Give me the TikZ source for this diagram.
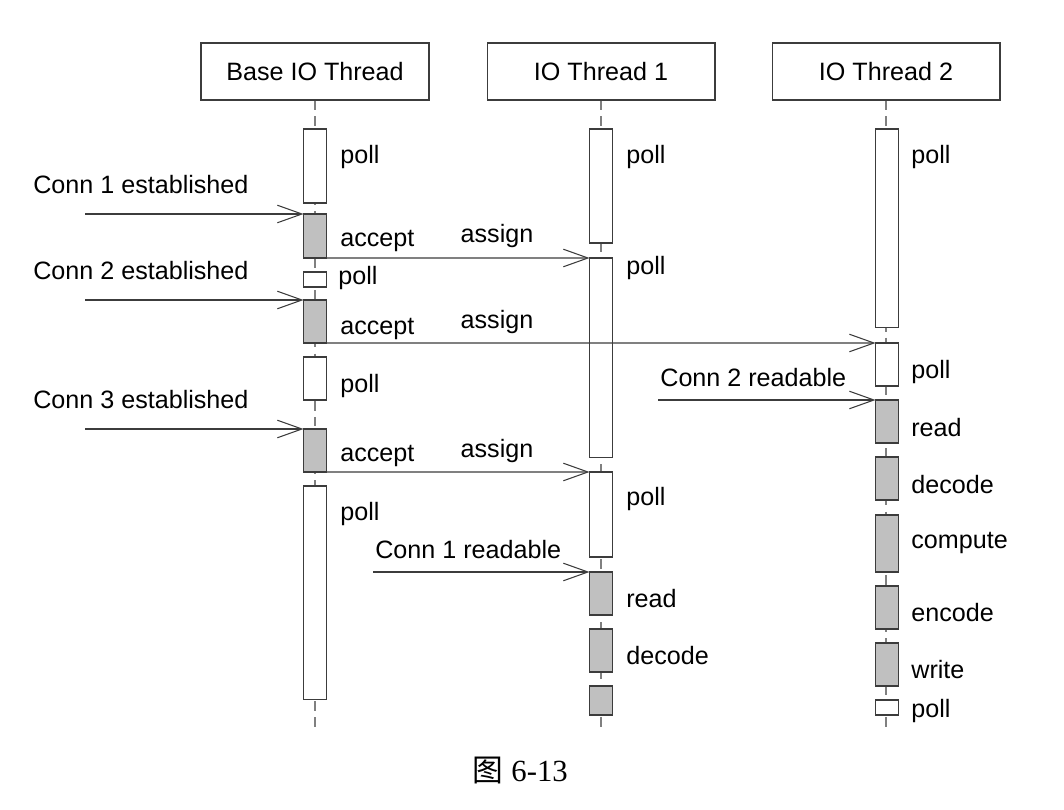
\documentclass[tikz,border=0pt]{standalone}
\usepackage{fontspec}
\setmainfont{Liberation Sans}
\newfontfamily\cjk{Noto Sans CJK SC}
\newfontfamily\capfont{Liberation Serif}
\usetikzlibrary{arrows.meta,positioning}
\definecolor{busygray}{RGB}{192,192,192}
\definecolor{linegray}{RGB}{60,60,60}
\tikzset{
  headbox/.style={draw=linegray, line width=.6pt, minimum width=4.56cm,
    minimum height=1.14cm, inner sep=0pt, font=\fontsize{14.3}{16}\selectfont},
  lifeline/.style={draw=gray, line width=.6pt, dash pattern=on 5.5pt off 3.5pt},
  act/.style={draw=linegray, line width=.6pt, minimum width=.46cm,
    minimum height=.86cm, inner sep=0pt, outer sep=0pt, anchor=north},
  idle/.style={act, fill=white},
  busy/.style={act, fill=busygray},
  lbl/.style={anchor=west, inner sep=0pt, font=\fontsize{14.3}{16}\selectfont},
  msg/.style={draw=linegray, line width=.6pt,
    -{Straight Barb[length=14pt, width=10pt, line width=.6pt]}}
}

\begin{document}
\begin{tikzpicture}[x=0.02cm, y=-0.02cm]
  \useasboundingbox (0,0) rectangle (1064,810);

  % threads
  \node[headbox] (base) at (315,71.5) {Base IO Thread};
  \node[headbox] (io1) at (601,71.5) {IO Thread 1};
  \node[headbox] (io2) at (886,71.5) {IO Thread 2};
  \coordinate (baseend) at (315,730);
  \coordinate (io1end) at (601,733);
  \coordinate (io2end) at (886,730);
  \draw[lifeline] (base) -- (baseend);
  \draw[lifeline] (io1) -- (io1end);
  \draw[lifeline] (io2) -- (io2end);

  % base io thread
  \node[idle, minimum height=1.48cm] (b1) at (315,129) {};
  \node[busy, minimum height=.88cm] (b2) at (315,214) {};
  \node[idle, minimum height=.30cm] (b3) at (315,272) {};
  \node[busy] (b4) at (315,300) {};
  \node[idle] (b5) at (315,357) {};
  \node[busy] (b6) at (315,429) {};
  \node[idle, minimum height=4.28cm] (b7) at (315,486) {};
  \node[lbl] (b1l) at (340,157) {poll};
  \node[lbl] (b2l) at (340,241) {accept};
  \node[lbl] (b3l) at (338,278) {poll};
  \node[lbl] (b4l) at (340,329) {accept};
  \node[lbl] (b5l) at (340,386) {poll};
  \node[lbl] (b6l) at (340,456) {accept};
  \node[lbl] (b7l) at (340,514) {poll};

  % io thread 1
  \node[idle, minimum height=2.28cm] (t1) at (601,129) {};
  \node[idle, minimum height=4.00cm] (t2) at (601,258) {};
  \node[idle, minimum height=1.70cm] (t3) at (601,472) {};
  \node[busy] (t4) at (601,572) {};
  \node[busy] (t5) at (601,629) {};
  \node[busy, minimum height=.58cm] (t6) at (601,686) {};
  \node[lbl] (t1l) at (626,157) {poll};
  \node[lbl] (t2l) at (626,268) {poll};
  \node[lbl] (t3l) at (626,499) {poll};
  \node[lbl] (t4l) at (626,599) {read};
  \node[lbl] (t5l) at (626,656) {decode};

  % io thread 2
  \node[idle, minimum height=3.98cm] (u1) at (887,129) {};
  \node[idle] (u2) at (887,343) {};
  \node[busy] (u3) at (887,400) {};
  \node[busy] (u4) at (887,457) {};
  \node[busy, minimum height=1.14cm] (u5) at (887,515) {};
  \node[busy] (u6) at (887,586) {};
  \node[busy] (u7) at (887,643) {};
  \node[idle, minimum height=.30cm] (u8) at (887,700) {};
  \node[lbl] (u1l) at (911,157) {poll};
  \node[lbl] (u2l) at (911,372) {poll};
  \node[lbl] (u3l) at (911,428) {read};
  \node[lbl] (u4l) at (911,485) {decode};
  \node[lbl] (u5l) at (911,543) {compute};
  \node[lbl] (u6l) at (911,613) {encode};
  \node[lbl] (u7l) at (911,670) {write};
  \node[lbl] (u8l) at (911,711) {poll};

  % incoming events
  \coordinate (c1) at (85,214);
  \coordinate (c2) at (85,300);
  \coordinate (c3) at (85,429);
  \coordinate (r2) at (658,400);
  \coordinate (r1) at (373,572);
  \draw[msg] (c1) -- (b2.north west);
  \draw[msg] (c2) -- (b4.north west);
  \draw[msg] (c3) -- (b6.north west);
  \draw[msg] (r2) -- (u3.north west);
  \draw[msg] (r1) -- (t4.north west);
  \node[lbl] (c1l) at (33,185) {Conn 1 established};
  \node[lbl] (c2l) at (33,271) {Conn 2 established};
  \node[lbl] (c3l) at (33,400) {Conn 3 established};
  \node[lbl] (r2l) at (660,378) {Conn 2 readable};
  \node[lbl] (r1l) at (375,550) {Conn 1 readable};

  % assignments
  \draw[msg] (b2.south east) -- (t2.north west);
  \draw[msg] (b4.south east) -- (u2.north west);
  \draw[msg] (b6.south east) -- (t3.north west);
  \node[lbl, anchor=center] (a1) at (497,236) {assign};
  \node[lbl, anchor=center] (a2) at (497,322) {assign};
  \node[lbl, anchor=center] (a3) at (497,451) {assign};

  \node (cap) at (520,770) {\fontsize{17.5}{20}\selectfont{\cjk 图} \capfont 6-13};
\end{tikzpicture}
\end{document}
